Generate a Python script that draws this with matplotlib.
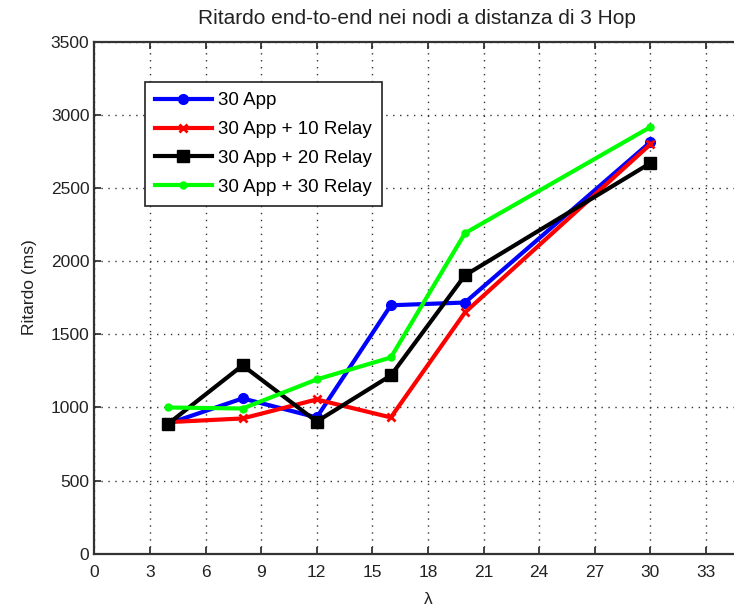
import matplotlib.pyplot as plt

# Dati: ritardo end-to-end (ms) al variare di lambda
lambdas = [4, 8, 12, 16, 20, 30]
ritardo_30app = [890, 1062, 932, 1699, 1718, 2815]
ritardo_10relay = [900, 925, 1055, 932, 1650, 2800]
ritardo_20relay = [890, 1288, 904, 1219, 1904, 2671]
ritardo_30relay = [1000, 993, 1192, 1342, 2192, 2918]

etichette = ["30 App", "30 App + 10 Relay", "30 App + 20 Relay", "30 App + 30 Relay"]
x_ticks = list(range(0, 34, 3))
y_ticks = list(range(0, 3501, 500))

plt.rcParams["font.family"] = ["Liberation Sans", "DejaVu Sans"]
plt.rcParams["font.size"] = 12.5

fig = plt.figure(figsize=(7.34, 6.11), dpi=100)
# l'asse si estende oltre il bordo destro della figura (xlim fino a 36)
ax = fig.add_axes([0.1285, 0.0938, 0.909, 0.8375])

ax.plot(lambdas, ritardo_30app, color="#0000ff", lw=3, marker="o", ms=7,
        label=etichette[0])
ax.plot(lambdas, ritardo_10relay, color="#ff0000", lw=3, marker="x", ms=6,
        mew=2, label=etichette[1])
ax.plot(lambdas, ritardo_20relay, color="black", lw=3, marker="s", ms=9,
        label=etichette[2])
ax.plot(lambdas, ritardo_30relay, color="#00ff00", lw=3, marker="o", ms=5,
        label=etichette[3])

ax.set_xlim(0, 36)
ax.set_ylim(0, 3500)
ax.set_xticks(x_ticks)
ax.set_yticks(y_ticks)
ax.tick_params(direction="in", top=True, right=True, length=5, width=1.2,
               colors="#222222", labelcolor="#222222")
ax.tick_params(axis="x", pad=8)
ax.grid(True, linestyle=(0, (1, 4)), color="#333333", lw=1)
for s in ax.spines.values():
    s.set_linewidth(1.6)
    s.set_color("#333333")

ax.set_title("Ritardo end-to-end nei nodi a distanza di 3 Hop", color="#222222",
             x=0.484, pad=13)
ax.set_xlabel("λ", color="#222222", labelpad=9)
ax.set_ylabel("Ritardo (ms)", color="#222222", labelpad=10, y=0.52)

leg = ax.legend(loc="upper left", bbox_to_anchor=(0.076, 0.922), borderaxespad=0,
                fancybox=False, framealpha=1, edgecolor="#222222",
                handlelength=3.0, handletextpad=0.35, labelspacing=0.62,
                borderpad=0.55, fontsize=13.5)
leg.get_frame().set_linewidth(1.2)

fig.savefig("out.png", dpi=100)
